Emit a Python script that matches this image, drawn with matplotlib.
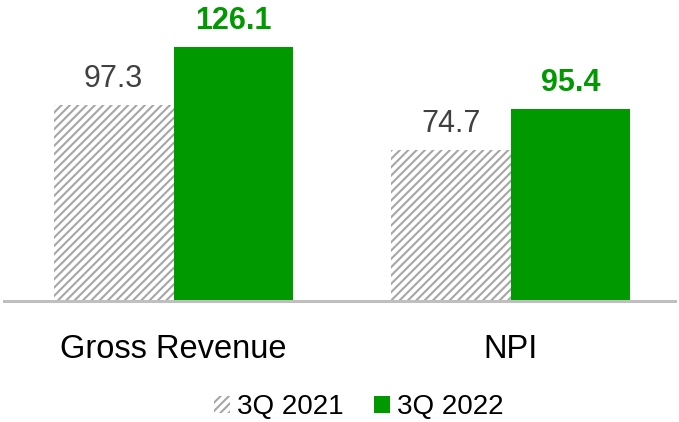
import matplotlib
matplotlib.use('Agg')
import matplotlib.pyplot as plt
from matplotlib.patches import Patch
import numpy as np

# data
categories = ['Gross Revenue', 'NPI']
series_names = ['3Q 2021', '3Q 2022']
values_2021 = [97.3, 74.7]
values_2022 = [126.1, 95.4]

GRAY = '#a6a6a6'
GREEN = '#009900'
LABEL_GRAY = '#404040'

plt.rcParams['font.family'] = ['Liberation Sans', 'DejaVu Sans']
plt.rcParams['hatch.color'] = GRAY
plt.rcParams['hatch.linewidth'] = 1.5

W, H = 679, 422
fig = plt.figure(figsize=(W / 100, H / 100), dpi=100)
ax_bottom = 300.5
ax = fig.add_axes([4 / W, (H - ax_bottom) / H, 671 / W, ax_bottom / H])

x = np.arange(len(categories))
width = 0.355
b1 = ax.bar(x - width / 2, values_2021, width, facecolor='white',
            edgecolor=GRAY, linewidth=0, hatch='////', label=series_names[0])
b2 = ax.bar(x + width / 2, values_2022, width, color=GREEN,
            linewidth=0, label=series_names[1])

# value labels
for rect, v in zip(b1, values_2021):
    ax.annotate('%.1f' % v, xy=(rect.get_x() + rect.get_width() / 2, v),
                xytext=(0, 13), textcoords='offset points', ha='center',
                va='baseline', fontsize=22, color=LABEL_GRAY)
for rect, v in zip(b2, values_2022):
    ax.annotate('%.1f' % v, xy=(rect.get_x() + rect.get_width() / 2, v),
                xytext=(0, 13), textcoords='offset points', ha='center',
                va='baseline', fontsize=22, color=GREEN, weight='bold')

# category labels
for i, c in enumerate(categories):
    ax.annotate(c, xy=(i, 0), xycoords=('data', 'axes fraction'),
                xytext=(0, -41.4), textcoords='offset points', ha='center',
                va='baseline', fontsize=23.5, color='black')

ax.set_xlim(-0.503, 1.488)
ax.set_ylim(0, 149.5)
ax.set_xticks([])
ax.set_yticks([])
for s in ['top', 'left', 'right']:
    ax.spines[s].set_visible(False)
ax.spines['bottom'].set_color('#bfbfbf')
ax.spines['bottom'].set_linewidth(2.2)
ax.patch.set_alpha(0)

handles = [Patch(facecolor='white', edgecolor=GRAY, linewidth=0, hatch='////'),
           Patch(facecolor=GREEN, linewidth=0)]
fig.legend(handles, series_names, loc='center', ncol=2, frameon=False,
           bbox_to_anchor=(358.5 / W, 15 / H), fontsize=20,
           handlelength=0.58, handleheight=0.58, handletextpad=0.25,
           columnspacing=1.08, borderaxespad=0, borderpad=0)

fig.savefig('out.png', dpi=100)
